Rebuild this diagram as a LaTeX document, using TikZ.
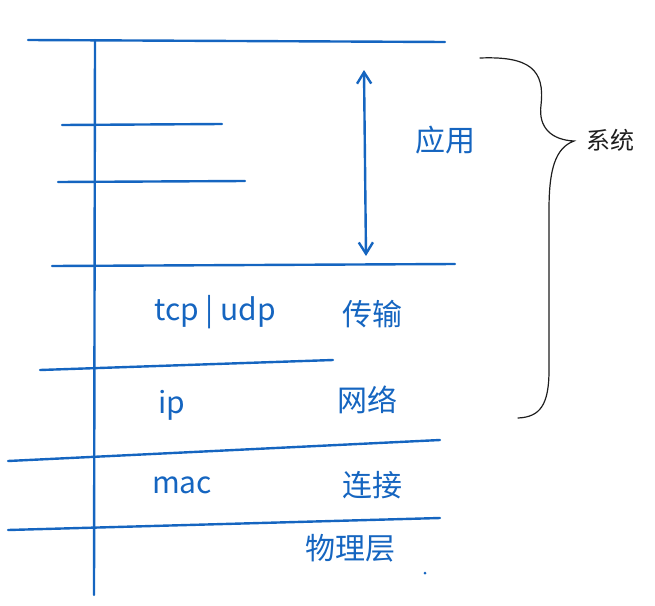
\documentclass[tikz,border=0pt]{standalone}
\usepackage{fontspec}
\setmainfont{Noto Sans CJK SC}
\usetikzlibrary{arrows.meta}
\definecolor{inkcolor}{RGB}{21, 101, 192}
\definecolor{bracecolor}{RGB}{30, 30, 30}
\tikzset{
inkline/.style={
  draw=inkcolor,
  line width=2.4pt,
  line cap=round
},
inktext/.style={
  text=inkcolor,
  font=\fontsize{30}{34}\selectfont,
  inner sep=0pt
},
bracetext/.style={
  text=bracecolor,
  font=\fontsize{24}{28}\selectfont,
  inner sep=0pt
},
doublearrow/.style={
  inkline,
  {Straight Barb[length=4mm,width=5mm]}-{Straight Barb[length=4mm,width=5mm]}
}
}
\begin{document}
\begin{tikzpicture}[x=1pt,y=-1pt]
  \useasboundingbox (0,0) rectangle (655,605);
  % layer borders
  \draw[inkline] (28,40) -- (445,42);
  \draw[inkline] (62,125) -- (222,124);
  \draw[inkline] (58,182) -- (245,181);
  \draw[inkline] (52,266) -- (455,264);
  \draw[inkline] (40,370) -- (333,360);
  \draw[inkline] (8,461) -- (440,440);
  \draw[inkline] (8,530) -- (440,518);
  % stack axis
  \draw[inkline] (95,40) -- (94,595);

  % application span
  \coordinate (apptop) at (364,70);
  \coordinate (appbot) at (366,256);
  \draw[doublearrow] (apptop) -- (appbot);

  \node[inktext] (app) at (445,140) {应用};
  \node[inktext] (tcpudp) at (215,312) {tcp | udp};
  \node[inktext] (trans) at (372,314) {传输};
  \node[inktext] (ip) at (172,405) {ip};
  \node[inktext] (net) at (367,400) {网络};
  \node[inktext] (mac) at (182,485) {mac};
  \node[inktext] (link) at (372,485) {连接};
  \node[inktext] (phys) at (350,548) {物理层};
  \fill[inkcolor] (425,573) circle (1.5);

  % system brace
  \draw[bracecolor, line width=1.2pt, line cap=round]
    (480,58) .. controls (530,56) and (545,70) .. (541,105)
    .. controls (538,128) and (552,140) .. (574,141)
    .. controls (555,148) and (549,170) .. (549,210)
    -- (549,370) .. controls (549,405) and (540,417) .. (518,418);
  \node[bracetext] (sys) at (610,140) {系统};
\end{tikzpicture}
\end{document}
